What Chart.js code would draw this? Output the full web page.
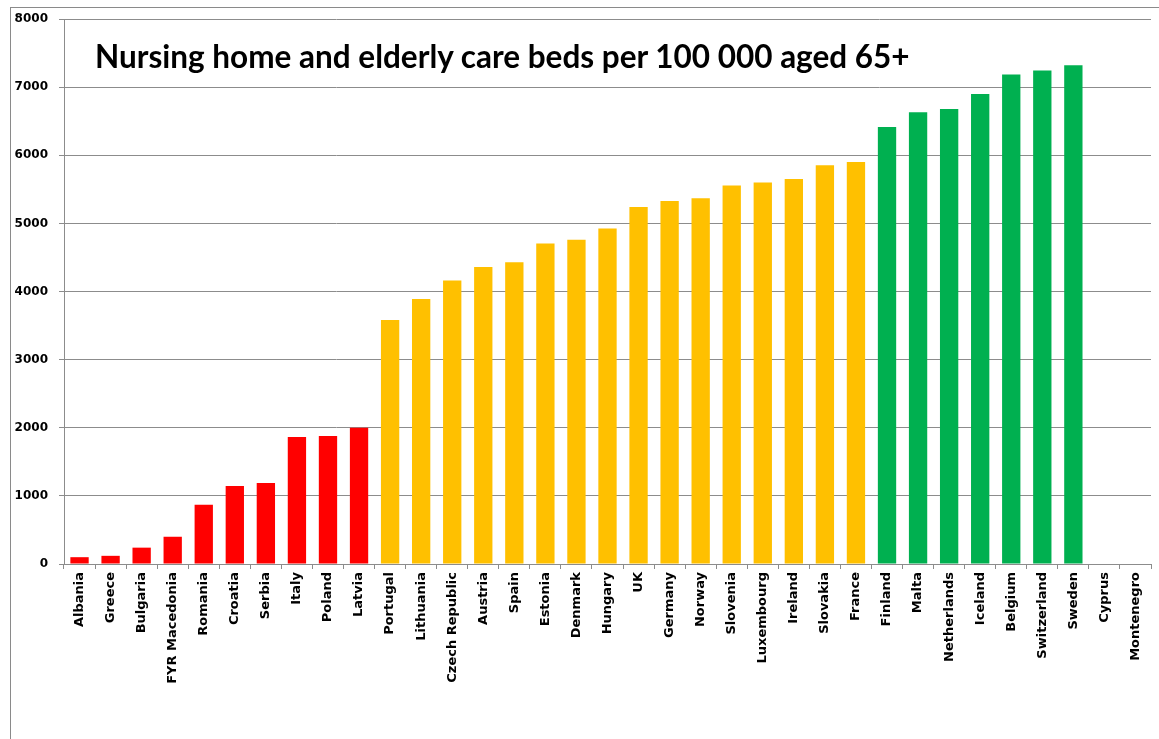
<!DOCTYPE html>
<html>
<head>
<meta charset="utf-8">
<script src="https://cdn.jsdelivr.net/npm/chart.js@4/dist/chart.umd.min.js"></script>
<style>
  html, body { margin: 0; padding: 0; background: #fff; overflow: hidden; }
  #wrap { position: relative; width: 1159px; height: 739px; }
  #frame {
    position: absolute; left: 10px; top: 7px; width: 1300px; height: 900px;
    border-left: 1px solid #8a8a8a; border-top: 1px solid #8a8a8a;
  }
  #chart { position: absolute; left: 0; top: 0; }
  #title {
    position: absolute; left: 95px; top: 41px; white-space: nowrap;
    font-family: Lato, "Open Sans", sans-serif; font-weight: bold; font-size: 31.5px;
    color: #000; line-height: 1;
  }
</style>
</head>
<body>
<div id="wrap">
  <div id="frame"></div>
  <canvas id="chart" width="1159" height="739"></canvas>
  <div id="title">Nursing home and elderly care beds per 100 000 aged 65+</div>
</div>
<script>
// Countries in ascending order of bed provision (Cyprus and Montenegro: no data)
const countries = [
  'Albania', 'Greece', 'Bulgaria', 'FYR Macedonia', 'Romania', 'Croatia', 'Serbia',
  'Italy', 'Poland', 'Latvia', 'Portugal', 'Lithuania', 'Czech Republic', 'Austria',
  'Spain', 'Estonia', 'Denmark', 'Hungary', 'UK', 'Germany', 'Norway', 'Slovenia',
  'Luxembourg', 'Ireland', 'Slovakia', 'France', 'Finland', 'Malta', 'Netherlands',
  'Iceland', 'Belgium', 'Switzerland', 'Sweden', 'Cyprus', 'Montenegro'
];

// Beds per 100 000 population aged 65+
const bedsPer100k = [
  100, 120, 240, 400, 870, 1145, 1190,
  1865, 1880, 2000, 3580, 3890, 4160, 4360,
  4430, 4705, 4760, 4925, 5240, 5330, 5370, 5555,
  5600, 5650, 5855, 5900, 6415, 6630, 6680,
  6900, 7185, 7245, 7320, null, null
];

// Value axis ticks
const yTicks = [0, 1000, 2000, 3000, 4000, 5000, 6000, 7000, 8000];

// Band thresholds used for colouring the bars
const lowBandLimit = 3000;
const midBandLimit = 6000;
const bandColours = { low: '#FF0000', mid: '#FFC000', high: '#00B050' };

function bandColour(v) {
  if (v === null) return 'rgba(0,0,0,0)';
  if (v < lowBandLimit) return bandColours.low;
  if (v < midBandLimit) return bandColours.mid;
  return bandColours.high;
}

const gridGrey = '#8c8c8c';
const labelFont = { family: '"DejaVu Sans", sans-serif', weight: 'bold', size: 12 };

new Chart(document.getElementById('chart'), {
  type: 'bar',
  data: {
    labels: countries,
    datasets: [{
      data: bedsPer100k,
      backgroundColor: bedsPer100k.map(bandColour),
      borderWidth: 0,
      categoryPercentage: 1,
      barPercentage: 0.59
    }]
  },
  options: {
    responsive: false,
    animation: false,
    devicePixelRatio: 1,
    layout: { padding: { left: 0, right: 8, top: 19, bottom: 0 } },
    plugins: { legend: { display: false }, tooltip: { enabled: false }, title: { display: false } },
    scales: {
      x: {
        offset: true,
        grid: { offset: true, drawOnChartArea: false, drawTicks: true, tickLength: 5, color: gridGrey },
        border: { display: true, color: gridGrey, width: 1 },
        ticks: {
          autoSkip: false, maxRotation: 90, minRotation: 90, padding: 3,
          color: '#000', font: { family: '"DejaVu Sans", sans-serif', weight: 'bold', size: 13 }
        },
        afterFit: (s) => { s.height = 175; }
      },
      y: {
        min: 0, max: 8000,
        afterBuildTicks: (s) => { s.ticks = yTicks.map(v => ({ value: v })); },
        grid: { color: gridGrey, tickLength: 5, lineWidth: 1 },
        border: { display: true, color: gridGrey, width: 1 },
        ticks: { padding: 11, color: '#000', font: labelFont, callback: (v) => String(v) },
        afterFit: (s) => { s.width = 64; }
      }
    }
  }
});
</script>
</body>
</html>
